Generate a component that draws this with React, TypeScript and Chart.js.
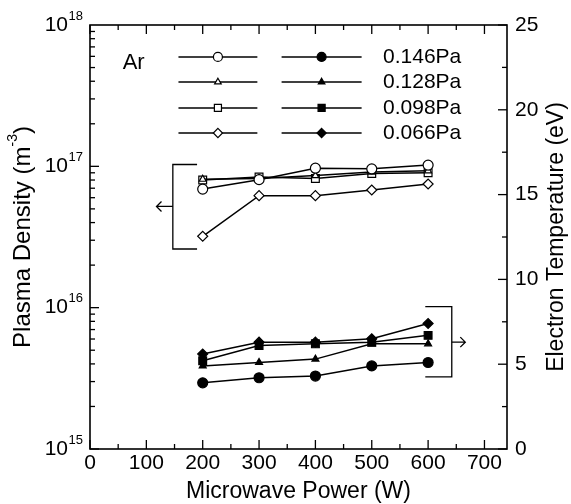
import React, { useEffect, useRef } from 'react';
import { Chart, registerables } from 'chart.js';

Chart.register(...registerables);

const W = 571;
const H = 504;
const FONT = '"Liberation Sans", Arial, Helvetica, sans-serif';

// ---- data ----
const powers = [200, 300, 400, 500, 600];
const pressures = ['0.146Pa', '0.128Pa', '0.098Pa', '0.066Pa'];
const markerStyles = ['circle', 'triangle', 'rect', 'rectRot'];
const markerRadii = [5, 4, 5.5, 5];

const density0146 = [6.9e16, 8.05e16, 9.7e16, 9.6e16, 1.02e17];
const density0128 = [8.1e16, 8.2e16, 8.6e16, 9.1e16, 9.3e16];
const density0098 = [8.0e16, 8.4e16, 8.2e16, 8.9e16, 9.0e16];
const density0066 = [3.2e16, 6.2e16, 6.2e16, 6.8e16, 7.5e16];

const temp0146 = [3.9, 4.2, 4.3, 4.9, 5.1];
const temp0128 = [4.9, 5.1, 5.3, 6.2, 6.2];
const temp0098 = [5.2, 6.1, 6.2, 6.3, 6.7];
const temp0066 = [5.6, 6.3, 6.3, 6.5, 7.4];

const densitySeries = [density0146, density0128, density0098, density0066];
const tempSeries = [temp0146, temp0128, temp0098, temp0066];

const xTicks = [0, 100, 200, 300, 400, 500, 600, 700];
const xMinorTicks = [50, 150, 250, 350, 450, 550, 650];
const densityExponents = [15, 16, 17, 18];
const tempTicks = [0, 5, 10, 15, 20, 25];
const tempMinorTicks = [2.5, 7.5, 12.5, 17.5, 22.5];

// legend row positions (density-axis values) and "Ar" label position
const legendRows = [5.94e17, 3.95e17, 2.59e17, 1.72e17];
const arLabel = { x: 58, y: 5.4e17 };

// bracket annotations (data coords)
const densityBracket = { x: 147, xCap: 190, yTop: 1.03e17, yBottom: 2.6e16, arrowFrom: 147, arrowTo: 118, arrowY: 5.2e16 };
const tempBracket = { x: 642, xCap: 595, yTop: 8.4, yBottom: 4.25, arrowFrom: 642, arrowTo: 666, arrowY: 6.3 };

function drawMarker(ctx: CanvasRenderingContext2D, style: string, x: number, y: number, r: number, filled: boolean) {
  ctx.save();
  ctx.beginPath();
  if (style === 'circle') {
    ctx.arc(x, y, r, 0, Math.PI * 2);
  } else if (style === 'triangle') {
    ctx.moveTo(x, y - r);
    ctx.lineTo(x + r * Math.cos(Math.PI / 6), y + r / 2);
    ctx.lineTo(x - r * Math.cos(Math.PI / 6), y + r / 2);
    ctx.closePath();
  } else if (style === 'rect') {
    const s = r * Math.SQRT1_2;
    ctx.rect(x - s, y - s, 2 * s, 2 * s);
  } else {
    ctx.moveTo(x, y - r);
    ctx.lineTo(x + r, y);
    ctx.lineTo(x, y + r);
    ctx.lineTo(x - r, y);
    ctx.closePath();
  }
  ctx.fillStyle = filled ? '#000' : '#fff';
  ctx.fill();
  ctx.lineWidth = 1.2;
  ctx.strokeStyle = '#000';
  ctx.stroke();
  ctx.restore();
}

const decorPlugin = {
  id: 'decor',
  afterDraw(chart: any) {
    const ctx: CanvasRenderingContext2D = chart.ctx;
    const xs = chart.scales.x;
    const ys = chart.scales.y;
    const y2 = chart.scales.y2;
    const { left, right, top, bottom } = chart.chartArea;
    ctx.save();
    ctx.strokeStyle = '#000';
    ctx.fillStyle = '#000';
    ctx.lineWidth = 1.6;
    ctx.strokeRect(left, top, right - left, bottom - top);

    ctx.lineWidth = 1.3;
    const major = 9;
    const minor = 5;
    for (const v of xTicks) {
      const px = xs.getPixelForValue(v);
      ctx.beginPath();
      ctx.moveTo(px, bottom); ctx.lineTo(px, bottom - major);
      ctx.moveTo(px, top); ctx.lineTo(px, top + major);
      ctx.stroke();
    }
    for (const v of xMinorTicks) {
      const px = xs.getPixelForValue(v);
      ctx.beginPath();
      ctx.moveTo(px, bottom); ctx.lineTo(px, bottom - minor);
      ctx.moveTo(px, top); ctx.lineTo(px, top + minor);
      ctx.stroke();
    }
    for (let e = 15; e < 18; e++) {
      for (let m = 1; m <= 9; m++) {
        const py = ys.getPixelForValue(m * Math.pow(10, e));
        ctx.beginPath();
        ctx.moveTo(left, py); ctx.lineTo(left + (m === 1 ? major : minor), py);
        ctx.stroke();
      }
    }
    for (const v of tempTicks) {
      const py = y2.getPixelForValue(v);
      ctx.beginPath();
      ctx.moveTo(right, py); ctx.lineTo(right - major, py);
      ctx.stroke();
    }
    for (const v of tempMinorTicks) {
      const py = y2.getPixelForValue(v);
      ctx.beginPath();
      ctx.moveTo(right, py); ctx.lineTo(right - minor, py);
      ctx.stroke();
    }

    // x tick labels
    ctx.font = `21px ${FONT}`;
    ctx.textAlign = 'center';
    ctx.textBaseline = 'middle';
    for (const v of xTicks) {
      ctx.fillText(String(v), xs.getPixelForValue(v), bottom + 14);
    }
    // x title
    ctx.font = `23px ${FONT}`;
    ctx.textBaseline = 'alphabetic';
    ctx.fillText('Microwave Power (W)', (left + right) / 2, bottom + 49);
    ctx.textBaseline = 'middle';

    // left labels 10^e
    for (const e of densityExponents) {
      const py = ys.getPixelForValue(Math.pow(10, e));
      const expStr = String(e);
      ctx.font = `13px ${FONT}`;
      const ew = ctx.measureText(expStr).width;
      const xEnd = left - 7;
      ctx.textAlign = 'left';
      ctx.fillText(expStr, xEnd - ew, py - 9);
      ctx.font = `21px ${FONT}`;
      ctx.textAlign = 'right';
      ctx.fillText('10', xEnd - ew - 0.5, py);
    }
    // right labels
    ctx.font = `21px ${FONT}`;
    ctx.textAlign = 'left';
    for (const v of tempTicks) {
      ctx.fillText(String(v), right + 8, y2.getPixelForValue(v));
    }

    // left title (rotated, with superscript)
    ctx.save();
    ctx.translate(23, (top + bottom) / 2);
    ctx.rotate(-Math.PI / 2);
    ctx.font = `24px ${FONT}`;
    const p1 = 'Plasma Density (m';
    const p3 = ')';
    const w1 = ctx.measureText(p1).width;
    const w3 = ctx.measureText(p3).width;
    ctx.font = `14px ${FONT}`;
    const w2 = ctx.measureText('-3').width;
    const total = w1 + w2 + w3;
    let cx = -total / 2;
    ctx.textAlign = 'left';
    ctx.font = `24px ${FONT}`;
    ctx.fillText(p1, cx, 0);
    cx += w1;
    ctx.font = `14px ${FONT}`;
    ctx.fillText('-3', cx, -10);
    cx += w2;
    ctx.font = `24px ${FONT}`;
    ctx.fillText(p3, cx, 0);
    ctx.restore();

    // right title
    ctx.save();
    ctx.translate(557, (top + bottom) / 2);
    ctx.rotate(-Math.PI / 2);
    ctx.font = `23px ${FONT}`;
    ctx.textAlign = 'center';
    ctx.fillText('Electron Temperature (eV)', 0, 0);
    ctx.restore();

    // "Ar"
    ctx.font = `22px ${FONT}`;
    ctx.textAlign = 'left';
    ctx.fillText('Ar', xs.getPixelForValue(arLabel.x), ys.getPixelForValue(arLabel.y));

    // legend
    const legendMarkerR = [4.5, 3.8, 5, 4.6];
    for (let i = 0; i < pressures.length; i++) {
      const py = ys.getPixelForValue(legendRows[i]);
      const cols: [number, number, boolean][] = [[157, 297, false], [340, 482, true]];
      for (const [a, b, filled] of cols) {
        const xa = xs.getPixelForValue(a);
        const xb = xs.getPixelForValue(b);
        ctx.lineWidth = 1.5;
        ctx.strokeStyle = '#000';
        ctx.beginPath();
        ctx.moveTo(xa, py); ctx.lineTo(xb, py);
        ctx.stroke();
        drawMarker(ctx, markerStyles[i], (xa + xb) / 2, py, legendMarkerR[i], filled);
      }
      ctx.fillStyle = '#000';
      ctx.font = `21px ${FONT}`;
      ctx.textAlign = 'left';
      ctx.fillText(pressures[i], xs.getPixelForValue(520), py);
    }

    // brackets
    ctx.lineWidth = 1.3;
    {
      const b = densityBracket;
      const bx = xs.getPixelForValue(b.x);
      const bc = xs.getPixelForValue(b.xCap);
      const yt = ys.getPixelForValue(b.yTop);
      const yb = ys.getPixelForValue(b.yBottom);
      ctx.beginPath();
      ctx.moveTo(bc, yt); ctx.lineTo(bx, yt); ctx.lineTo(bx, yb); ctx.lineTo(bc, yb);
      ctx.stroke();
      const ay = ys.getPixelForValue(b.arrowY);
      const a0 = xs.getPixelForValue(b.arrowFrom);
      const a1 = xs.getPixelForValue(b.arrowTo);
      ctx.beginPath();
      ctx.moveTo(a0, ay); ctx.lineTo(a1, ay);
      ctx.moveTo(a1 + 5, ay - 5); ctx.lineTo(a1, ay); ctx.lineTo(a1 + 5, ay + 5);
      ctx.stroke();
    }
    {
      const b = tempBracket;
      const bx = xs.getPixelForValue(b.x);
      const bc = xs.getPixelForValue(b.xCap);
      const yt = y2.getPixelForValue(b.yTop);
      const yb = y2.getPixelForValue(b.yBottom);
      ctx.beginPath();
      ctx.moveTo(bc, yt); ctx.lineTo(bx, yt); ctx.lineTo(bx, yb); ctx.lineTo(bc, yb);
      ctx.stroke();
      const ay = y2.getPixelForValue(b.arrowY);
      const a0 = xs.getPixelForValue(b.arrowFrom);
      const a1 = xs.getPixelForValue(b.arrowTo);
      ctx.beginPath();
      ctx.moveTo(a0, ay); ctx.lineTo(a1, ay);
      ctx.moveTo(a1 - 5, ay - 5); ctx.lineTo(a1, ay); ctx.lineTo(a1 - 5, ay + 5);
      ctx.stroke();
    }
    ctx.restore();
  },
};

export default function App() {
  const ref = useRef<HTMLCanvasElement>(null);
  useEffect(() => {
    const datasets: any[] = [];
    densitySeries.forEach((vals, i) => {
      datasets.push({
        label: `n ${pressures[i]}`,
        data: powers.map((p, k) => ({ x: p, y: vals[k] })),
        yAxisID: 'y',
        borderColor: '#000',
        borderWidth: 1.5,
        pointStyle: markerStyles[i],
        pointRadius: markerRadii[i],
        pointBackgroundColor: '#fff',
        pointBorderColor: '#000',
        pointBorderWidth: 1.2,
        showLine: true,
        fill: false,
      });
    });
    tempSeries.forEach((vals, i) => {
      datasets.push({
        label: `Te ${pressures[i]}`,
        data: powers.map((p, k) => ({ x: p, y: vals[k] })),
        yAxisID: 'y2',
        borderColor: '#000',
        borderWidth: 1.5,
        pointStyle: markerStyles[i],
        pointRadius: markerRadii[i],
        pointBackgroundColor: '#000',
        pointBorderColor: '#000',
        pointBorderWidth: 1.2,
        showLine: true,
        fill: false,
      });
    });
    const chart = new Chart(ref.current!, {
      type: 'line',
      data: { datasets },
      options: {
        responsive: false,
        animation: false,
        devicePixelRatio: 1,
        layout: { padding: { top: 25, left: 0, right: 0, bottom: 0 } },
        plugins: { legend: { display: false }, tooltip: { enabled: false } },
        scales: {
          x: {
            type: 'linear', min: 0, max: 740, position: 'bottom',
            ticks: { display: false }, grid: { display: false }, border: { display: false },
            afterFit: (s: any) => { s.height = 55; },
          },
          y: {
            type: 'logarithmic', min: 1e15, max: 1e18, position: 'left',
            ticks: { display: false }, grid: { display: false }, border: { display: false },
            afterFit: (s: any) => { s.width = 90; },
          },
          y2: {
            type: 'linear', min: 0, max: 25, position: 'right',
            ticks: { display: false }, grid: { display: false }, border: { display: false },
            afterFit: (s: any) => { s.width = 64; },
          },
        },
      } as any,
      plugins: [decorPlugin],
    });
    return () => chart.destroy();
  }, []);
  return (
    <div style={{ position: 'absolute', left: 0, top: 0, width: W, height: H, background: '#fff' }}>
      <canvas ref={ref} width={W} height={H} />
    </div>
  );
}
